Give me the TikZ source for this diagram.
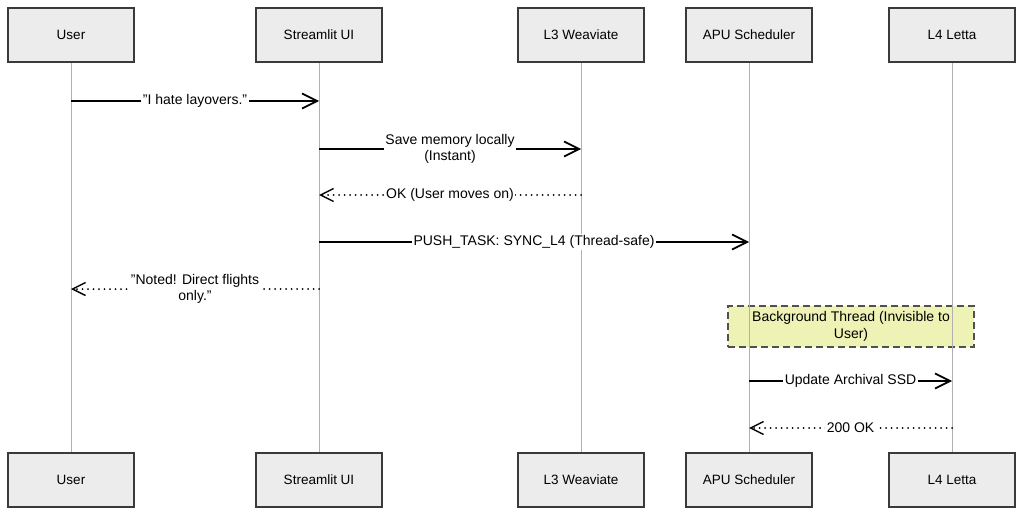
\documentclass[tikz,border=0pt]{standalone}
\usepackage{fontspec}
\setmainfont{Liberation Sans}
\usetikzlibrary{arrows.meta}
\definecolor{boxfill}{HTML}{ECECEC}
\definecolor{boxline}{HTML}{3A3A3A}
\definecolor{lifeline}{HTML}{B0B0B0}
\definecolor{notefill}{HTML}{EEF2B4}
\definecolor{noteline}{HTML}{505050}
\begin{document}
\begin{tikzpicture}[x=1pt,y=-1pt,
  actor/.style={draw=boxline, fill=boxfill, line width=1.2pt, minimum width=126pt, minimum height=54pt, inner sep=0pt, font=\fontsize{13.5}{16}\selectfont},
  life/.style={draw=lifeline, line width=0.8pt},
  msg/.style={line width=1.7pt, -{Straight Barb[length=15pt,width=15pt,line width=1.7pt]}},
  reply/.style={line width=2pt, line cap=round, dash pattern=on 0pt off 5.5pt, -{Straight Barb[length=13pt,width=13pt,line width=1.4pt]}},
  lbl/.style={fill=white, inner sep=1.5pt, align=center, font=\fontsize{14}{16.5}\selectfont},
  note/.style={draw=noteline, fill=notefill, dash pattern=on 7pt off 4pt, line width=1.4pt, minimum width=246pt, minimum height=41pt, align=center, inner sep=0pt, font=\fontsize{14}{16.5}\selectfont}]
\useasboundingbox (0,0) rectangle (1024,516);
\fill[white] (0,0) rectangle (1024,516);

% top actors
\node[actor] (uT) at (71,35) {User};
\node[actor] (sT) at (319,35) {Streamlit UI};
\node[actor] (wT) at (581,35) {L3 Weaviate};
\node[actor] (aT) at (749,35) {APU Scheduler};
\node[actor] (lT) at (952,35) {L4 Letta};
% bottom actors
\node[actor] (uB) at (71,480) {User};
\node[actor] (sB) at (319,480) {Streamlit UI};
\node[actor] (wB) at (581,480) {L3 Weaviate};
\node[actor] (aB) at (749,480) {APU Scheduler};
\node[actor] (lB) at (952,480) {L4 Letta};

% note
\node[note] (bg) at (851,326.5) {Background Thread (Invisible to\\User)};

% lifelines
\draw[life] (uT.south) -- (uB.north);
\draw[life] (sT.south) -- (sB.north);
\draw[life] (wT.south) -- (wB.north);
\draw[life] (aT.south) -- (aB.north);
\draw[life] (lT.south) -- (lB.north);

% message end points
\coordinate (u1) at (71,101);   \coordinate (s1) at (319,101);
\coordinate (s2) at (319,149);  \coordinate (w2) at (581,149);
\coordinate (w3) at (581,195);  \coordinate (s3) at (319,195);
\coordinate (s4) at (319,242);  \coordinate (a4) at (749,242);
\coordinate (s5) at (319,289);  \coordinate (u5) at (71,289);
\coordinate (a7) at (749,381);  \coordinate (l7) at (952,381);
\coordinate (l8) at (952,428);  \coordinate (a8) at (749,428);

\draw[msg] (u1) -- (s1) node[lbl, midway] {"I hate layovers."};
\draw[msg] (s2) -- (w2) node[lbl, midway] {Save memory locally\\(Instant)};
\draw[reply] (w3) -- (s3) node[lbl, midway] {OK (User moves on)};
\draw[msg] (s4) -- (a4) node[lbl, midway] {PUSH\_TASK: SYNC\_L4 (Thread-safe)};
\draw[reply] (s5) -- (u5) node[lbl, midway] {"Noted! Direct flights\\only."};
\draw[msg] (a7) -- (l7) node[lbl, midway] {Update Archival SSD};
\draw[reply] (l8) -- (a8) node[lbl, midway] {200 OK};
\end{tikzpicture}
\end{document}
